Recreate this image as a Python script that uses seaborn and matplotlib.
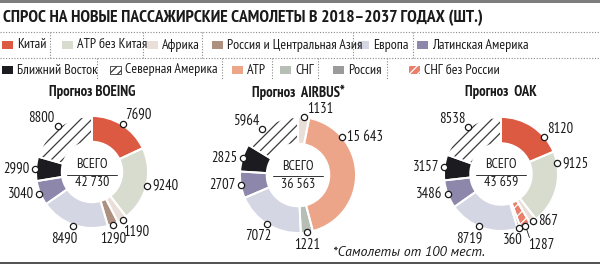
import numpy as np
import matplotlib
matplotlib.use("Agg")
import matplotlib.pyplot as plt
import seaborn as sns
from matplotlib.patches import Rectangle, Wedge

sns.set_style("white")
plt.rcParams["font.family"] = ["PT Sans Narrow", "Roboto Condensed", "Liberation Sans", "DejaVu Sans"]
plt.rcParams["hatch.linewidth"] = 0.9

W, H = 600, 266

# data
legend_row1 = ["Китай", "АТР без Китая", "Африка", "Россия и Центральная Азия", "Европа", "Латинская Америка"]
legend_row2 = ["Ближний Восток", "Северная Америка", "АТР", "СНГ", "Россия", "СНГ без России"]

boeing_regions = ["Китай", "АТР без Китая", "Африка", "Россия и Центральная Азия",
                  "Европа", "Латинская Америка", "Ближний Восток", "Северная Америка"]
boeing_values = [7690, 9240, 1190, 1290, 8490, 3040, 2990, 8800]

airbus_regions = ["Африка", "АТР", "СНГ", "Европа", "Латинская Америка", "Ближний Восток", "Северная Америка"]
airbus_values = [1131, 15643, 1221, 7072, 2707, 2825, 5964]

oak_regions = ["Китай", "АТР без Китая", "Африка", "СНГ без России", "Россия",
               "Европа", "Латинская Америка", "Ближний Восток", "Северная Америка"]
oak_values = [8120, 9125, 867, 1287, 360, 8719, 3486, 3157, 8538]

title = "СПРОС НА НОВЫЕ ПАССАЖИРСКИЕ САМОЛЕТЫ В 2018–2037 ГОДАХ (ШТ.)"
footnote = "*Самолеты от 100 мест."

# styles
colors = {
    "Китай": "#dc5a41",
    "АТР без Китая": "#d7dccf",
    "Африка": "#eadfd8",
    "Россия и Центральная Азия": "#ad9080",
    "Европа": "#d4d7e3",
    "Латинская Америка": "#8d87ab",
    "Ближний Восток": "#1c1b20",
    "Северная Америка": "white",
    "АТР": "#eda58a",
    "СНГ": "#b7beb5",
    "Россия": "#9b9b9b",
    "СНГ без России": "#e8806c",
}
hatches = {"Северная Америка": ("#3a3a3a", "///"), "СНГ без России": ("white", "///")}

# layout (pixels, y down)
row1_x = [2, 62, 147, 212, 358, 417]
row1_sep = [50, 143, 202, 353, 413]
row2_x = [2, 110, 232, 280, 333, 409]
row2_sep = [97, 222, 272, 318, 387]

offsets = {  # ha, va, dx, dy
    "r": ("left", "center", 5, 0), "l": ("right", "center", -5, 0),
    "b": ("center", "top", 0, 6),
    "tr": ("left", "bottom", 3, -1), "tl": ("right", "bottom", -3, -1),
    "br": ("left", "top", 1, 4), "bl": ("right", "top", 4, 5),
    "b2": ("left", "top", 3, 12),
}


def Y(y):
    return H - y


def fmt(v):
    return f"{v:,}".replace(",", " ") if v >= 10000 else str(v)


fig = plt.figure(figsize=(W / 100, H / 100), dpi=100)
ax = fig.add_axes([0, 0, 1, 1])

# borders and title
ax.add_patch(Rectangle((0, Y(2.5)), W, 2.5, color="#7d7d7d", lw=0))
ax.add_patch(Rectangle((0, Y(264)), W, 2.2, color="#555555", lw=0))
ax.text(3, Y(18), title, fontsize=12.6, fontweight="bold", ha="left", va="center", color="#1a1a1a")

# legend
for yline in [31.5, 57.5]:
    ax.plot([0, W], [Y(yline), Y(yline)], color="#8a8a8a", lw=0.8, ls=(0, (1, 1.5)))
for names, xs, seps, yc, y0, y1 in [(legend_row1, row1_x, row1_sep, 45, 31.5, 57.5),
                                    (legend_row2, row2_x, row2_sep, 70, 57.5, 80)]:
    for name, x in zip(names, xs):
        ax.add_patch(Rectangle((x, Y(yc + 4)), 11, 8, facecolor=colors[name], lw=0))
        if name in hatches:
            hc, hp = hatches[name]
            ax.add_patch(Rectangle((x, Y(yc + 4)), 11, 8, facecolor="none", edgecolor=hc,
                                   lw=0.6 if name == "Северная Америка" else 0, hatch="////"))
        ax.text(x + 15, Y(yc), name, fontsize=10, ha="left", va="center", color="#1a1a1a")
    for sx in seps:
        ax.plot([sx, sx], [Y(y0), Y(y1)], color="#8a8a8a", lw=0.8, ls=(0, (1, 1.5)))


def draw_donut(regions, values, cx, cy, R, mr, text_cy, pos, frac, name):
    total = sum(values)
    wedges, _ = ax.pie(values, colors=[colors[r] for r in regions], startangle=90, counterclock=False,
                       radius=R, center=(cx, Y(cy)), wedgeprops=dict(width=R * 0.46, linewidth=0))
    for w, r in zip(wedges, regions):
        if r in hatches:
            hc, hp = hatches[r]
            ax.add_patch(Wedge(w.center, w.r, w.theta1, w.theta2, width=w.width, facecolor="none",
                               edgecolor=hc, linewidth=0, hatch=hp))
        ax.add_patch(Wedge(w.center, w.r, w.theta1, w.theta2, width=w.width, facecolor="none",
                           edgecolor="white", linewidth=1.4))
    cum = 0
    for v, p, f in zip(values, pos, frac):
        ang = np.deg2rad(90 - 360 * (cum + f * v) / total)
        cum += v
        mx, my = cx + R * mr * np.cos(ang), cy - R * mr * np.sin(ang)
        ha, va, dx, dy = offsets[p]
        if p == "b2":
            ax.plot([mx, mx + 4], [Y(my), Y(my + 12)], color="#1a1a1a", lw=0.6, zorder=4)
        ax.text(mx + dx, Y(my + dy), fmt(v), ha=ha, va=va, fontsize=10.5, color="#1a1a1a")
        ax.plot(mx, Y(my), "o", ms=4.5, mfc="white", mec="#1a1a1a", mew=0.9, zorder=5)
    ax.text(cx, Y(text_cy - 9), "ВСЕГО", ha="center", va="center", fontsize=10, color="#1a1a1a")
    ax.plot([cx - 25, cx + 25], [Y(text_cy + 1), Y(text_cy + 1)], color="#333333", lw=0.7)
    ax.text(cx, Y(text_cy + 9), f"{total:,}".replace(",", " "),
            ha="center", va="center", fontsize=10, color="#1a1a1a")
    ax.text(cx, Y(92), name, ha="center", va="center", fontsize=10.5, fontweight="bold", color="#1a1a1a")


draw_donut(boeing_regions, boeing_values, 92, 172, 56, 1.02, 174,
           ["tr", "r", "br", "b", "bl", "l", "l", "tl"], [0.5] * 8, "Прогноз BOEING")
draw_donut(airbus_regions, airbus_values, 298, 175, 58, 1.0, 175,
           ["tr", "r", "b", "bl", "l", "l", "tl"], [0.5, 0.25, 0.5, 0.5, 0.5, 0.5, 0.35], "Прогноз  AIRBUS*")
draw_donut(oak_regions, oak_values, 501, 174, 57, 1.0, 174,
           ["tr", "r", "r", "b2", "bl", "bl", "l", "l", "tl"],
           [0.74, 0.16, 0.5, 0.5, 0.5, 0.56, 0.5, 0.5, 0.5], "Прогноз  OAK")

ax.text(333, Y(253), footnote, ha="left", va="center", fontsize=10, style="italic",
        family=["PT Sans", "Liberation Sans", "DejaVu Sans"], color="#1a1a1a")

ax.set_xlim(0, W)
ax.set_ylim(0, H)
ax.set_aspect("auto")
ax.axis("off")
fig.savefig("out.png", dpi=100)
